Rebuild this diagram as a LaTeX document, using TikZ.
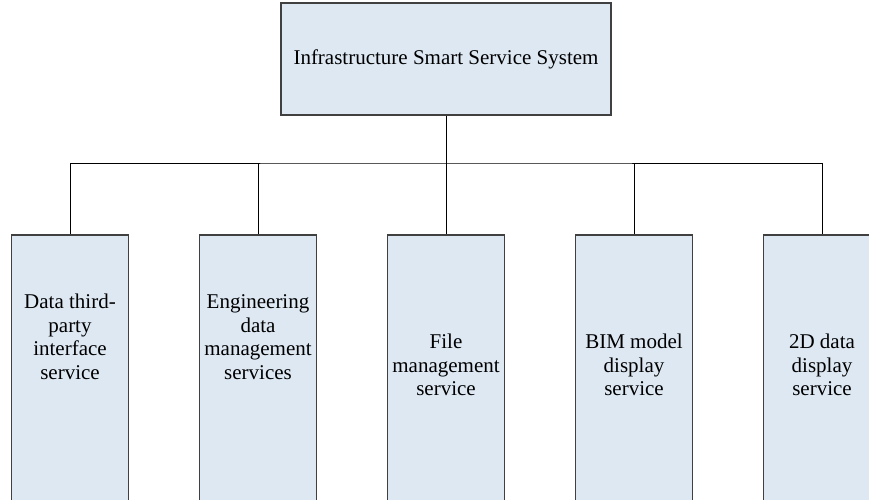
\documentclass[tikz,border=0pt]{standalone}
\usepackage{fontspec}
\setmainfont{Liberation Serif}
\usepackage{xcolor}
\usepackage{tikz}
\usetikzlibrary{positioning}

\definecolor{boxfill}{HTML}{DDE8F3}
\definecolor{boxline}{HTML}{404040}

\begin{document}
\begin{tikzpicture}[x=1pt,y=-1pt,-,node distance=188pt,
                    sys node/.style={rectangle,draw=boxline,fill=boxfill,line width=1.2pt,
                                     minimum width=330pt,minimum height=112pt,inner sep=0pt,
                                     font=\fontsize{21}{23.5}\selectfont},
                    svc node/.style={rectangle,draw=boxline,fill=boxfill,line width=1.2pt,
                                     minimum width=117pt,minimum height=270pt,inner sep=0pt},
                    svc text/.style={align=center,inner sep=0pt,font=\fontsize{21}{23.5}\selectfont}]

  \useasboundingbox (0,0) rectangle (869,500);
  \clip (0,0) rectangle (869,500);

  \node[sys node] (sys) at (446,59) {Infrastructure Smart Service System};

  \node[svc node] (3) at (446,370) {};
  \node[svc node] (2) [left of=3] {};
  \node[svc node] (1) [left of=2] {};
  \node[svc node] (4) [right of=3] {};
  \node[svc node] (5) [right of=4] {};

  \node[svc text,yshift=33pt] (t1) at (1) {Data third-\\party\\interface\\service};
  \node[svc text,yshift=33pt] (t2) at (2) {Engineering\\data\\management\\services};
  \node[svc text,yshift=5pt] (t3) at (3) {File\\management\\service};
  \node[svc text,yshift=5pt] (t4) at (4) {BIM model\\display\\service};
  \node[svc text,yshift=5pt] (t5) at (5) {2D data\\display\\service};

  \coordinate (bus) at (446,163);

  \path[draw=black,line width=0.9pt]
  (sys.south) edge (bus)
  (1.north) |- (bus) -| (5.north)
  (2.north) edge (2.north |- bus)
  (3.north) edge (3.north |- bus)
  (4.north) edge (4.north |- bus);

\end{tikzpicture}
\end{document}
